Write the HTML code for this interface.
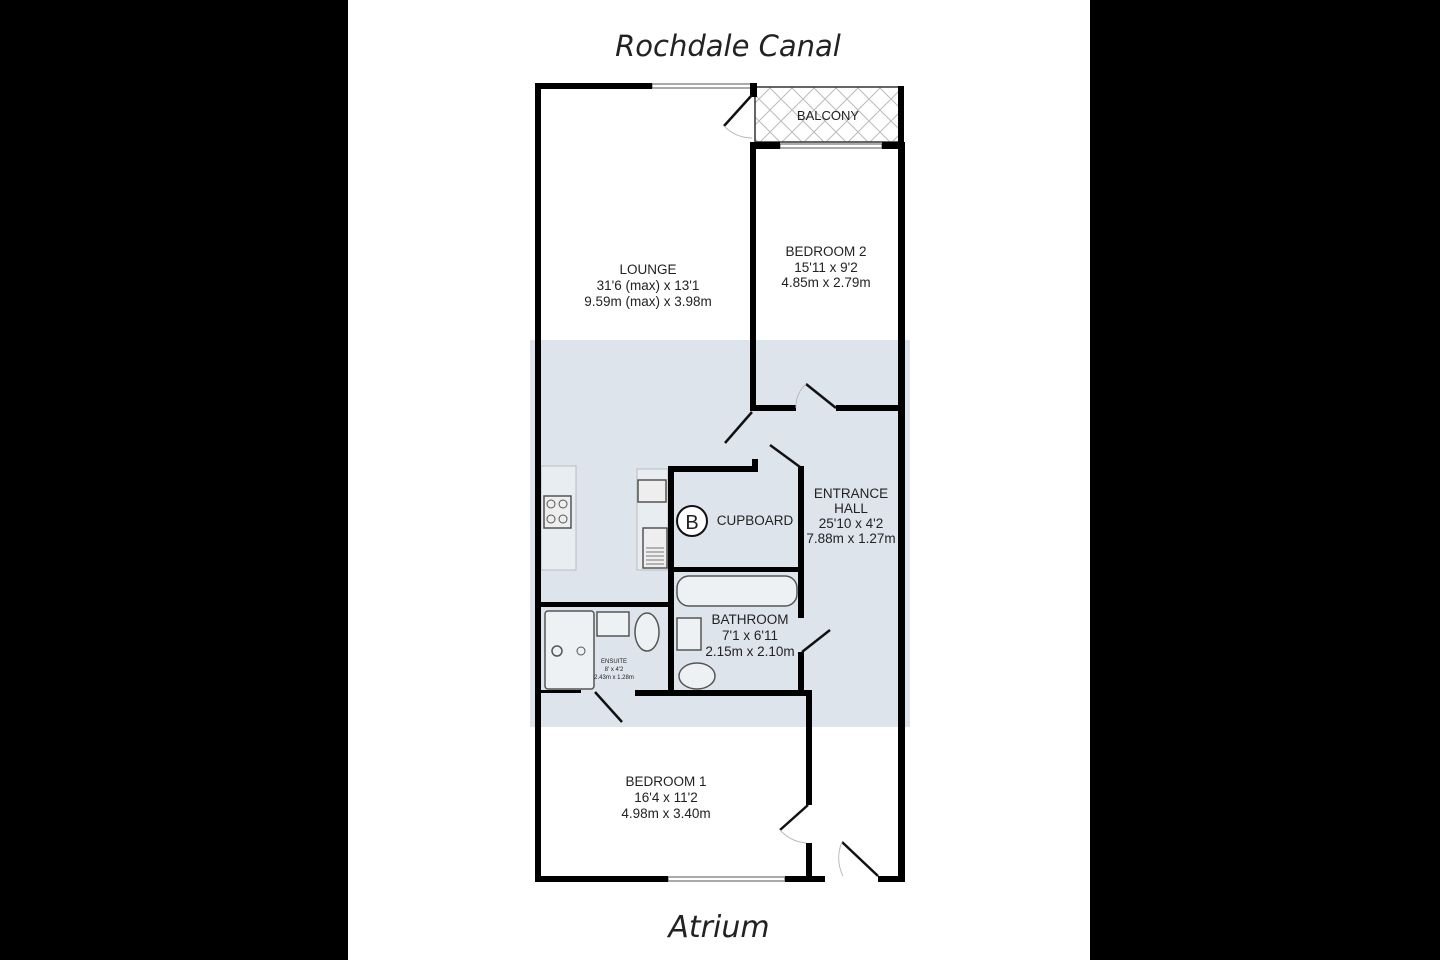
<!DOCTYPE html>
<html><head><meta charset="utf-8"><style>
html,body{margin:0;padding:0;background:#000;}
svg{display:block;}
text{font-family:"Liberation Sans",Arial,sans-serif;fill:#222;}
</style></head><body>
<svg width="1440" height="960" viewBox="0 0 1440 960" xmlns="http://www.w3.org/2000/svg">
<defs>
<pattern id="hatch" width="22" height="22" patternUnits="userSpaceOnUse">
<rect width="22" height="22" fill="#fff"/>
<path d="M0 0L22 22M22 0L0 22" stroke="#bbb" stroke-width="1"/>
</pattern>
</defs>
<rect x="0" y="0" width="1440" height="960" fill="#000"/>
<rect x="348" y="0" width="742" height="960" fill="#fff"/>
<text x="728" y="56" font-size="29" font-style="italic" text-anchor="middle" style="font-family:'DejaVu Sans','Liberation Sans',sans-serif" fill="#111">Rochdale Canal</text>
<text x="719" y="937" font-size="30" font-style="italic" text-anchor="middle" style="font-family:'DejaVu Sans','Liberation Sans',sans-serif" fill="#111">Atrium</text>
<rect x="530" y="340" width="380" height="387" fill="#dde4ec"/>
<rect x="541" y="466" width="35" height="104" fill="#e8edf2" stroke="#bbb" stroke-width="1"/>
<rect x="637" y="469" width="31" height="101" fill="#e8edf2" stroke="#bbb" stroke-width="1"/>
<rect x="544" y="496" width="27" height="32" fill="#eee" stroke="#555" stroke-width="1.5"/>
<circle cx="551" cy="504" r="4" fill="none" stroke="#555"/><circle cx="563" cy="504" r="4" fill="none" stroke="#555"/>
<circle cx="551" cy="519" r="4" fill="none" stroke="#555"/><circle cx="563" cy="519" r="4" fill="none" stroke="#555"/>
<rect x="638" y="480" width="28" height="22" fill="#eee" stroke="#555" stroke-width="1.5"/>
<rect x="643" y="528" width="24" height="40" fill="#eee" stroke="#555" stroke-width="1.5"/>
<path d="M646 548h18M646 552h18M646 556h18M646 560h18M646 564h18" stroke="#777" stroke-width="1"/>
<rect x="755" y="87" width="146" height="55" fill="url(#hatch)" stroke="#333" stroke-width="1.5"/>
<text x="828" y="120" font-size="13" text-anchor="middle">BALCONY</text>
<rect x="652" y="84" width="100" height="4" fill="#fff" stroke="#555" stroke-width="1"/>
<rect x="780" y="144" width="102" height="4" fill="#fff" stroke="#555" stroke-width="1"/>
<rect x="668" y="877" width="117" height="4" fill="#fff" stroke="#555" stroke-width="1"/>
<g fill="#000">
<rect x="535" y="83" width="6" height="799"/>
<rect x="535" y="83" width="117" height="6"/>
<rect x="750" y="83" width="7" height="14"/>
<rect x="898" y="86" width="6" height="57"/>
<rect x="750" y="142" width="30" height="7"/>
<rect x="882" y="142" width="23" height="7"/>
<rect x="750" y="142" width="6" height="269"/>
<rect x="898" y="142" width="7" height="740"/>
<rect x="750" y="405" width="46" height="6"/>
<rect x="836" y="405" width="69" height="6"/>
<rect x="668" y="466" width="90" height="6"/>
<rect x="752" y="459" width="6" height="13"/>
<rect x="668" y="466" width="6" height="226"/>
<rect x="798" y="466" width="6" height="152"/>
<rect x="798" y="652" width="6" height="44"/>
<rect x="674" y="567" width="128" height="5"/>
<rect x="541" y="602" width="133" height="5"/>
<rect x="635" y="690" width="177" height="6"/>
<rect x="806" y="690" width="6" height="115"/>
<rect x="806" y="843" width="6" height="39"/>
<rect x="535" y="876" width="133" height="6"/>
<rect x="785" y="876" width="40" height="6"/>
<rect x="878" y="876" width="27" height="6"/>
<rect x="541" y="690" width="40" height="3"/>
</g>
<g stroke="#111" stroke-width="2.5" fill="none">
<line x1="752" y1="95" x2="724" y2="126"/>
<line x1="806" y1="384" x2="836" y2="408"/>
<line x1="752" y1="412" x2="725" y2="443"/>
<line x1="770" y1="445" x2="800" y2="467"/>
<line x1="802" y1="652" x2="830" y2="630"/>
<line x1="780" y1="830" x2="808" y2="805"/>
<line x1="842" y1="842" x2="878" y2="876"/>
<line x1="595" y1="692" x2="622" y2="722"/>
</g>
<g stroke="#bbb" stroke-width="1" fill="none">
<path d="M724 126 A40 40 0 0 0 752 138"/>
<path d="M806 384 A30 30 0 0 0 796 408"/>
<path d="M780 830 A40 40 0 0 0 806 843"/>
<path d="M842 842 A40 40 0 0 0 843 876"/>
</g>
<g stroke="#555" stroke-width="1.5" fill="#eef1f4">
<rect x="545" y="611" width="49" height="78" rx="3"/>
<rect x="597" y="612" width="32" height="24"/>
<ellipse cx="647" cy="632" rx="12" ry="19"/>
<circle cx="557" cy="651" r="5"/>
<rect x="677" y="576" width="120" height="30" rx="12"/>
<rect x="677" y="618" width="24" height="32"/>
<ellipse cx="697" cy="676" rx="18" ry="13"/>
</g>
<circle cx="581" cy="651" r="4" fill="none" stroke="#555"/>
<circle cx="692" cy="521" r="15" fill="#fff" stroke="#111" stroke-width="2"/>
<text x="692" y="529" font-size="20" text-anchor="middle" fill="#111">B</text>
<text x="755" y="525" font-size="13.5" text-anchor="middle" fill="#111">CUPBOARD</text>
<g font-size="13.5" text-anchor="middle" fill="#111">
<text x="648" y="274">LOUNGE</text>
<text x="648" y="290">31'6 (max) x 13'1</text>
<text x="648" y="306">9.59m (max) x 3.98m</text>
<text x="826" y="256">BEDROOM 2</text>
<text x="826" y="272">15'11 x 9'2</text>
<text x="826" y="287">4.85m x 2.79m</text>
<text x="851" y="498">ENTRANCE</text>
<text x="851" y="513">HALL</text>
<text x="851" y="528">25'10 x 4'2</text>
<text x="851" y="543">7.88m x 1.27m</text>
<text x="750" y="624">BATHROOM</text>
<text x="750" y="640">7'1 x 6'11</text>
<text x="750" y="656">2.15m x 2.10m</text>
<text x="666" y="786">BEDROOM 1</text>
<text x="666" y="802">16'4 x 11'2</text>
<text x="666" y="818">4.98m x 3.40m</text>
</g>
<g font-size="6" text-anchor="middle">
<text x="614" y="663">ENSUITE</text>
<text x="614" y="671">8' x 4'2</text>
<text x="614" y="679">2.43m x 1.28m</text>
</g>
</svg>
</body></html>
